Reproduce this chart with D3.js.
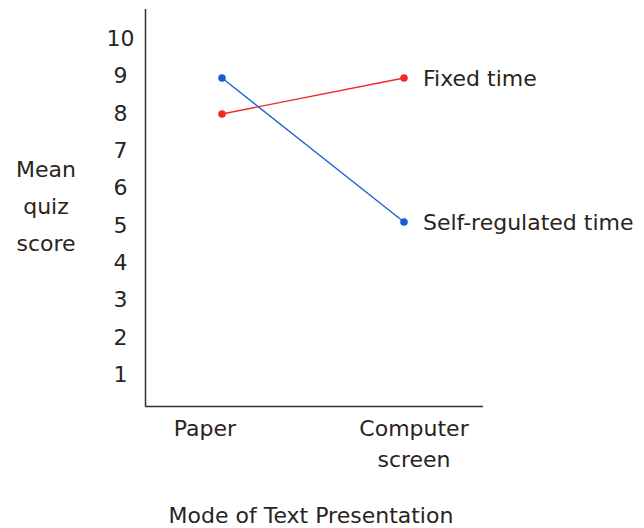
<!DOCTYPE html>
<html><head><meta charset="utf-8">
<script src="https://cdn.jsdelivr.net/npm/d3@7"></script>
<style>
html,body{margin:0;padding:0;background:#fff;}
text{font-family:"DejaVu Sans",sans-serif;fill:#2a241e;}
</style></head>
<body>
<svg id="chart" width="644" height="528"></svg>
<script>
const categories = ["Paper", "Computer screen"];
const seriesNames = ["Fixed time", "Self-regulated time"];
const fixedTime = [8, 9];
const selfRegulated = [9, 5];
const yTicks = [1,2,3,4,5,6,7,8,9,10];
const colors = ["#f2292a", "#1a5dd2"];
const FS = 22;

const svg = d3.select("#chart");
const x = d3.scalePoint().domain(categories).range([222, 404]);
const xLab = d3.scalePoint().domain(categories).range([205, 414]);
const y = d3.scaleLinear().domain([0, 10]).range([402, 42]);
const yLab = d3.scaleLinear().domain([1, 10]).range([374, 38]);

// axes
svg.append("line").attr("x1",145.5).attr("x2",145.5).attr("y1",9).attr("y2",406.5)
  .attr("stroke","#3a322a").attr("stroke-width",1.5);
svg.append("line").attr("x1",145).attr("x2",483).attr("y1",406.5).attr("y2",406.5)
  .attr("stroke","#3a322a").attr("stroke-width",1.5);

svg.append("g").selectAll("text").data(yTicks).join("text")
  .attr("x",120.5).attr("y",d=>yLab(d)).attr("dy","0.36em")
  .attr("text-anchor","middle").attr("font-size",FS).text(d=>d);

// category labels
const catG = svg.append("g");
categories.forEach(c=>{
  const words = c.split(" ");
  words.forEach((w,i)=>{
    catG.append("text").attr("x",xLab(c)).attr("y",436+i*31)
      .attr("text-anchor","middle").attr("font-size",FS).text(w);
  });
});

svg.append("text").attr("x",311).attr("y",523).attr("text-anchor","middle")
  .attr("font-size",FS).text("Mode of Text Presentation");

["Mean","quiz","score"].forEach((w,i)=>{
  svg.append("text").attr("x",46).attr("y",177+i*37).attr("text-anchor","middle")
    .attr("font-size",FS).text(w);
});

const series = [fixedTime, selfRegulated];
series.forEach((vals,si)=>{
  const pts = categories.map((c,i)=>[x(c), y(vals[i])]);
  svg.append("path").attr("d", d3.line()(pts)).attr("fill","none")
    .attr("stroke",colors[si]).attr("stroke-width",1.3);
  svg.append("g").selectAll("circle").data(pts).join("circle")
    .attr("cx",d=>d[0]).attr("cy",d=>d[1]).attr("r",3.8).attr("fill",colors[si]);
  const last = pts[pts.length-1];
  svg.append("text").attr("x",last[0]+19).attr("y",last[1]).attr("dy","0.36em")
    .attr("font-size",FS).text(seriesNames[si]);
});
</script>
</body></html>
